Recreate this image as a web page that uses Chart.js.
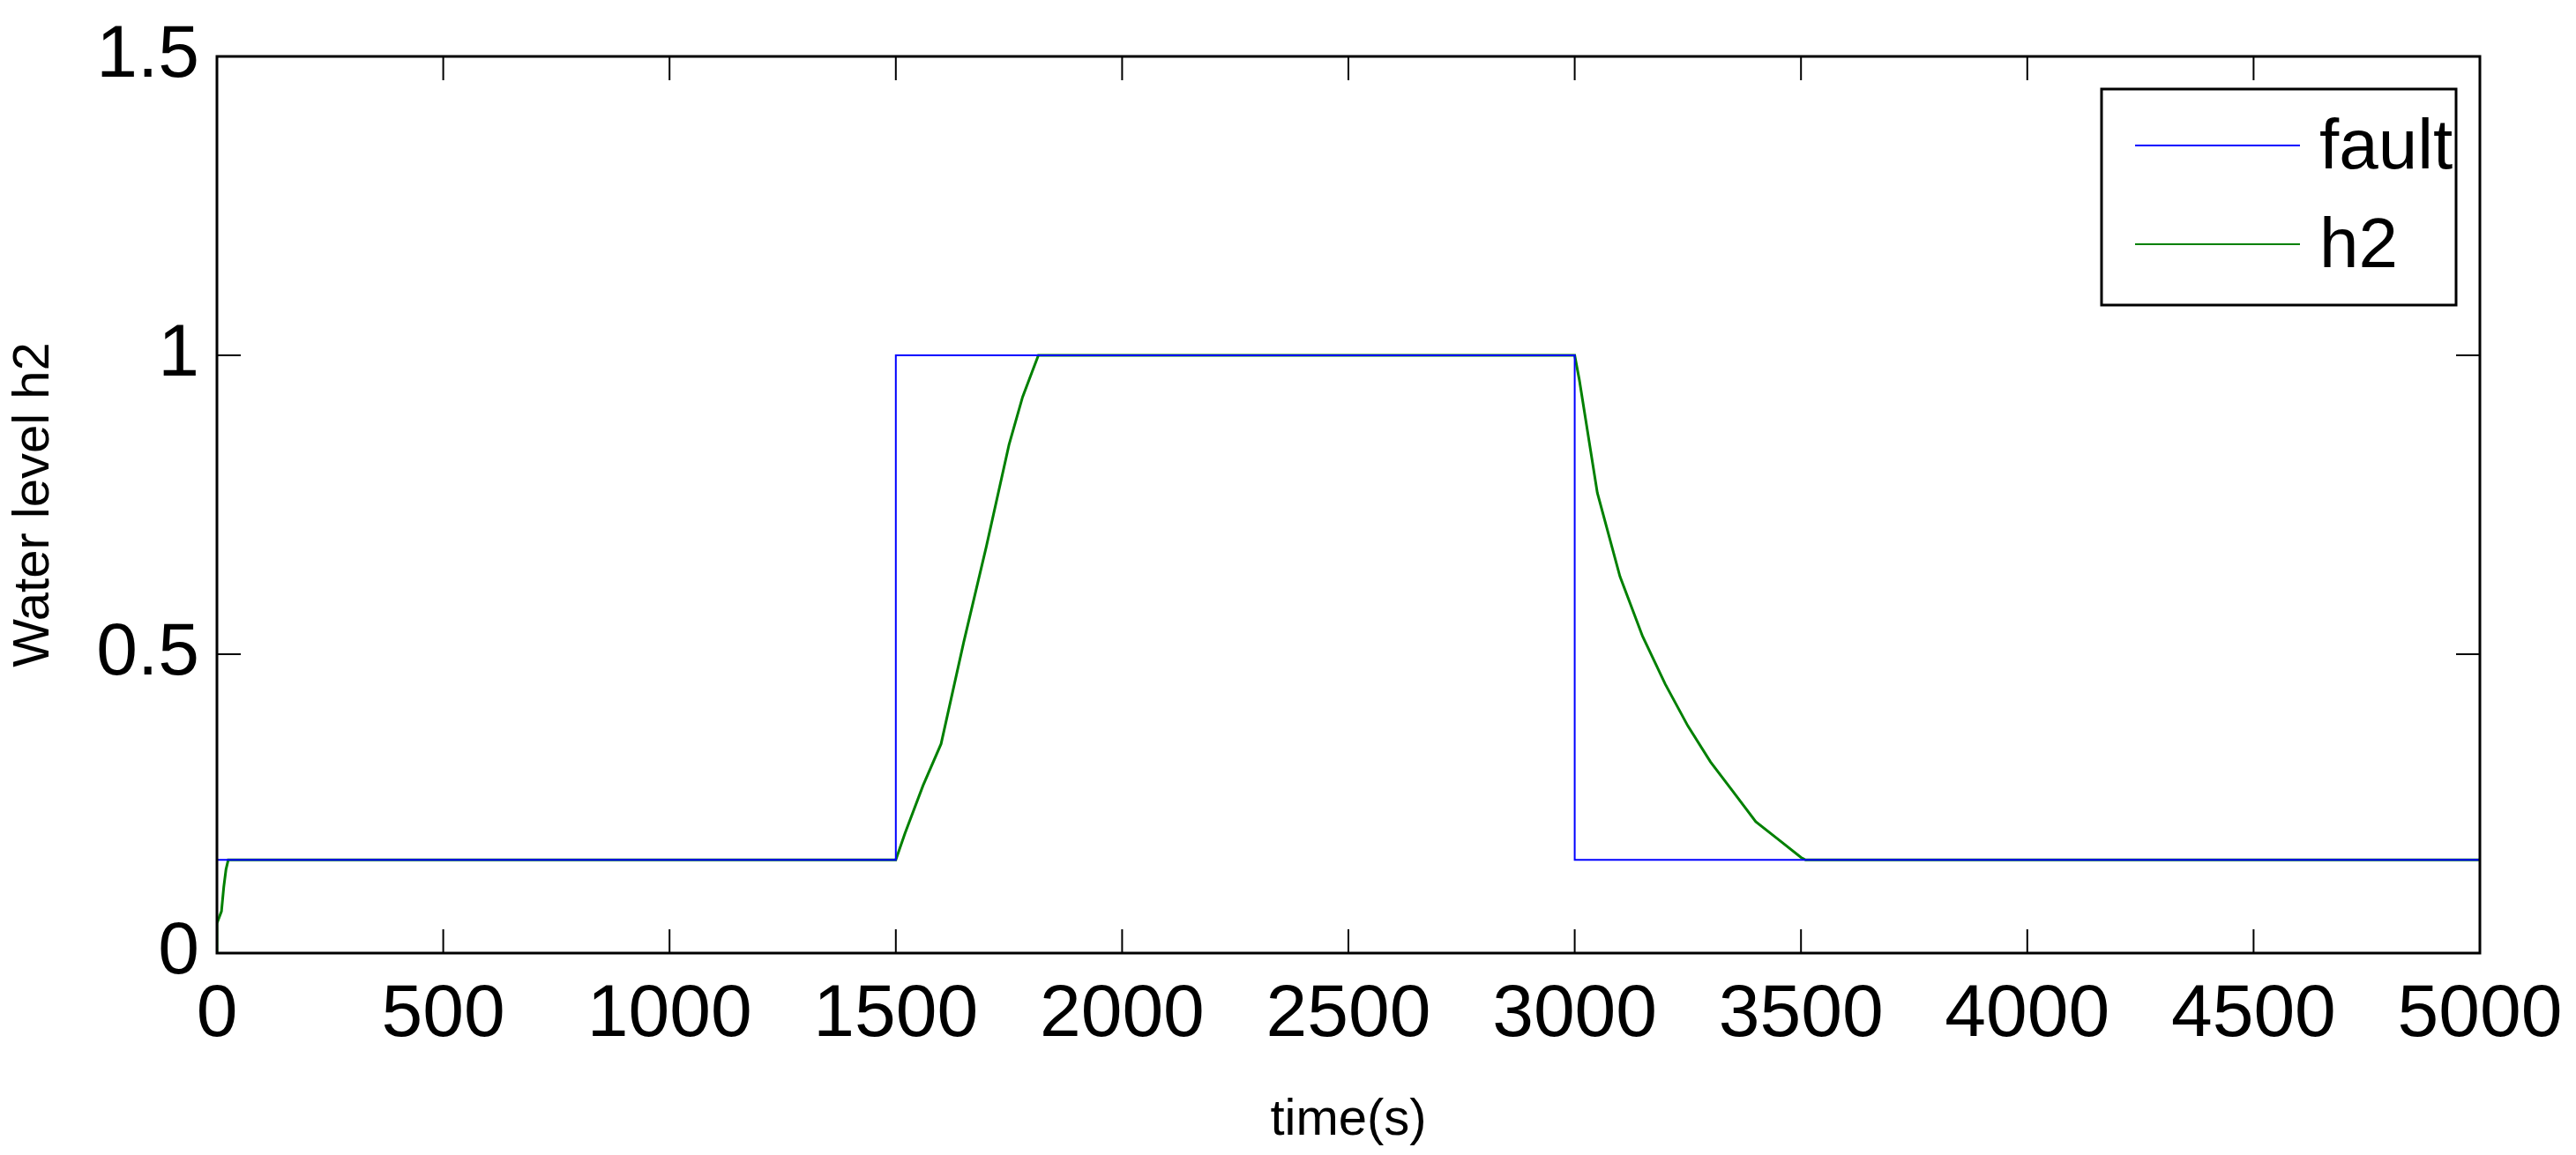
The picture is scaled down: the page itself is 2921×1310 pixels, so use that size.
<!DOCTYPE html>
<html>
<head>
<meta charset="utf-8">
<script src="https://cdn.jsdelivr.net/npm/chart.js@4/dist/chart.umd.min.js"></script>
<style>
  html, body { margin: 0; padding: 0; background: #fff; }
  #wrap { width: 2921px; height: 1310px; }
</style>
</head>
<body>
<div id="wrap"><canvas id="chart"></canvas></div>
<script>
// data
const faultX = [0, 1500, 1500, 3000, 3000, 5000];
const faultY = [0.156, 0.156, 1, 1, 0.156, 0.156];

const h2X = [0, 0, 10, 15, 20, 25, 1500, 1520, 1560, 1600, 1650, 1700, 1750, 1780, 1800, 1815,
             3000, 3010, 3050, 3100, 3150, 3200, 3250, 3300, 3350, 3400, 3450, 3500, 3510, 5000];
const h2Y = [0, 0.05, 0.07, 0.11, 0.14, 0.156, 0.156, 0.2, 0.28, 0.35, 0.52, 0.68, 0.85, 0.93, 0.97, 1,
             1, 0.96, 0.77, 0.63, 0.53, 0.45, 0.38, 0.32, 0.27, 0.22, 0.19, 0.16, 0.156, 0.156];

const xTicks = [0, 500, 1000, 1500, 2000, 2500, 3000, 3500, 4000, 4500, 5000];
const yTicks = [0, 0.5, 1, 1.5];

const seriesNames = ['fault', 'h2'];
const seriesColors = ['#0000ff', '#008000'];

const fontFamily = '"Liberation Sans", Arial, sans-serif';

const frame = {
    id: 'frame',
    afterDatasetsDraw(chart) {
        const { ctx, chartArea: a, scales } = chart;
        ctx.save();
        ctx.strokeStyle = '#000';
        ctx.lineWidth = 3;
        ctx.strokeRect(a.left, a.top, a.right - a.left, a.bottom - a.top);
        ctx.lineWidth = 2;
        const t = 27;
        ctx.beginPath();
        xTicks.forEach(v => {
            const px = scales.x.getPixelForValue(v);
            ctx.moveTo(px, a.bottom); ctx.lineTo(px, a.bottom - t);
            ctx.moveTo(px, a.top); ctx.lineTo(px, a.top + t);
        });
        yTicks.forEach(v => {
            const py = scales.y.getPixelForValue(v);
            ctx.moveTo(a.left, py); ctx.lineTo(a.left + t, py);
            ctx.moveTo(a.right, py); ctx.lineTo(a.right - t, py);
        });
        ctx.stroke();

        // legend box
        const lx = 2383, ly = 101, lw = 402, lh = 245;
        ctx.fillStyle = '#fff';
        ctx.fillRect(lx, ly, lw, lh);
        ctx.lineWidth = 3;
        ctx.strokeRect(lx, ly, lw, lh);
        ctx.font = '80px ' + fontFamily;
        ctx.textBaseline = 'middle';
        seriesNames.forEach((name, i) => {
            const y = 165 + i * 112;
            ctx.strokeStyle = seriesColors[i];
            ctx.lineWidth = 2;
            ctx.beginPath();
            ctx.moveTo(2421, y); ctx.lineTo(2608, y);
            ctx.stroke();
            ctx.fillStyle = '#000';
            ctx.fillText(name, 2630, y + 4);
        });
        ctx.restore();
    }
};

new Chart(document.getElementById('chart'), {
    type: 'line',
    data: {
        datasets: [
            {
                label: seriesNames[0],
                data: faultX.map((x, i) => ({ x: x, y: faultY[i] })),
                borderColor: seriesColors[0],
                borderWidth: 2,
                pointRadius: 0,
                tension: 0
            },
            {
                label: seriesNames[1],
                data: h2X.map((x, i) => ({ x: x, y: h2Y[i] })),
                borderColor: seriesColors[1],
                borderWidth: 3,
                pointRadius: 0,
                tension: 0
            }
        ]
    },
    options: {
        responsive: true,
        maintainAspectRatio: false,
        animation: false,
        devicePixelRatio: 1,
        layout: { padding: { left: 0, right: 109, top: 64, bottom: 0 } },
        plugins: { legend: { display: false }, tooltip: { enabled: false } },
        scales: {
            x: {
                type: 'linear',
                min: 0,
                max: 5000,
                afterBuildTicks: s => { s.ticks = xTicks.map(v => ({ value: v })); },
                afterFit: s => { s.height = 229; },
                grid: { display: false },
                border: { display: false },
                ticks: { color: '#000', padding: 12, font: { size: 84, family: fontFamily }, maxRotation: 0,
                         callback: v => String(v) },
                title: { display: true, text: 'time(s)', color: '#000', padding: { top: 0 }, font: { size: 58, family: fontFamily } }
            },
            y: {
                type: 'linear',
                min: 0,
                max: 1.5,
                afterBuildTicks: s => { s.ticks = yTicks.map(v => ({ value: v })); },
                afterFit: s => { s.width = 246; },
                grid: { display: false },
                border: { display: false },
                ticks: { color: '#000', padding: 12, font: { size: 84, family: fontFamily },
                         callback: v => String(v) },
                title: { display: true, text: 'Water level h2', color: '#000', padding: { bottom: 4 }, font: { size: 58, family: fontFamily } }
            }
        }
    },
    plugins: [frame]
});
</script>
</body>
</html>
